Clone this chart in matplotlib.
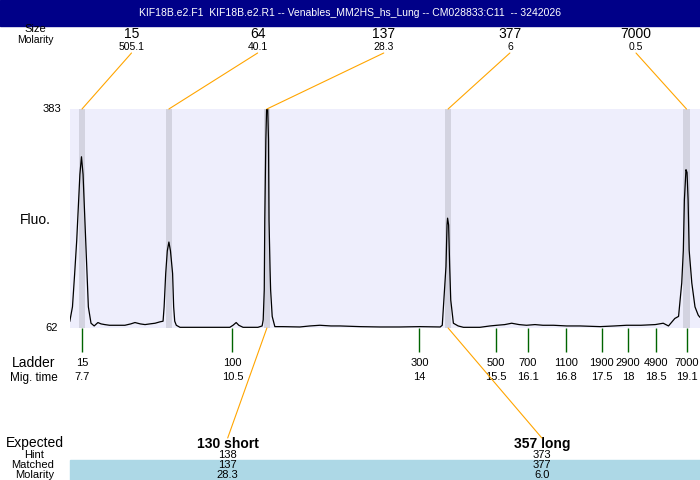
import matplotlib
matplotlib.use('Agg')
import matplotlib.pyplot as plt
from matplotlib import transforms
from matplotlib.patches import Rectangle, ConnectionPatch
import numpy as np

plt.rcParams['font.family'] = ['Liberation Sans', 'DejaVu Sans']

title = 'KIF18B.e2.F1  KIF18B.e2.R1 -- Venables_MM2HS_hs_Lung -- CM028833:C11  -- 3242026'

# peaks called on the trace
peak_sizes = ['15', '64', '137', '377', '7000']
peak_molarity = ['505.1', '40.1', '28.3', '6', '0.5']
peak_times = [7.70, 9.34, 11.19, 14.61, 19.11]

# ladder
ladder_sizes = ['15', '100', '300', '500', '700', '1100', '1900', '2900', '4900', '7000']
ladder_times = [7.70, 10.54, 14.07, 15.51, 16.11, 16.83, 17.51, 18.01, 18.54, 19.11]
ladder_time_labels = ['7.7', '10.5', '14', '15.5', '16.1', '16.8', '17.5', '18', '18.5', '19.1']

# expected products
expected_labels = ['130 short', '357 long']
expected_times = [10.45, 16.38]
hint_sizes = ['138', '373']
matched_sizes = ['137', '377']
matched_molarity = ['28.3', '6.0']
matched_times = [11.19, 14.61]

# electropherogram trace (migration time, fluorescence)
trace_time = [7.47, 7.52, 7.56, 7.60, 7.66, 7.69, 7.72, 7.77, 7.82, 7.87, 7.93,
              8.00, 8.06, 8.13, 8.22, 8.32, 8.42, 8.51, 8.62, 8.70, 8.80, 8.89,
              8.98, 9.08, 9.17, 9.23, 9.25, 9.28, 9.31, 9.34, 9.37, 9.41, 9.43,
              9.45, 9.48, 9.55, 9.93, 10.49, 10.55, 10.61, 10.66, 10.74, 11.02,
              11.10, 11.12, 11.14, 11.15, 11.17, 11.19, 11.20, 11.22, 11.23,
              11.25, 11.26, 11.29, 11.34, 11.49, 11.81, 12.00, 12.19, 12.40,
              12.57, 12.95, 13.32, 13.70, 14.08, 14.46, 14.50, 14.53, 14.57,
              14.59, 14.60, 14.62, 14.64, 14.66, 14.71, 14.80, 14.90, 15.21,
              15.40, 15.53, 15.68, 15.81, 15.95, 16.09, 16.25, 16.40, 16.60,
              16.85, 17.10, 17.48, 17.75, 17.98, 18.25, 18.52, 18.67, 18.77,
              18.89, 18.96, 19.02, 19.05, 19.07, 19.10, 19.12, 19.14, 19.16,
              19.21, 19.27, 19.33, 19.36]
trace_fluo = [72, 93, 140, 190, 287, 313, 287, 190, 93, 69, 65,
              70, 68, 67, 66, 66, 66, 66, 68, 70, 68, 67,
              68, 69, 71, 72, 93, 142, 175, 188, 175, 142, 93,
              72, 66, 63, 63, 63, 66, 70, 66, 63, 63,
              65, 74, 118, 220, 338, 400, 400, 338, 220,
              147, 118, 79, 64, 64, 63.5, 65, 66, 65,
              65, 64, 63.5, 63.5, 64, 63.5, 66, 103, 152,
              213, 223, 213, 152, 103, 69, 65, 63, 63,
              65, 66, 67, 69, 67, 66, 67, 66, 66,
              65, 65, 64, 65, 66, 66, 67, 69, 65,
              76, 79, 128, 176, 250, 294, 290, 250, 176,
              128, 93, 81, 78]

fluo_min, fluo_max = 62, 383

W, H = 700, 480
fig = plt.figure(figsize=(7, 4.8), dpi=100)


def fx(px):
    return px / W


def fy(px):
    return 1 - px / H


ax = fig.add_axes([fx(70), fy(328), fx(630), 219 / H])
ax.set_facecolor('#EEEEFC')
ax.set_xlim(7.4735, 19.3647)
ax.set_ylim(fluo_min, fluo_max)
for s in ax.spines.values():
    s.set_visible(False)
ax.set_xticks([])
ax.set_yticks([])

for t in peak_times:
    ax.axvspan(t - 0.057, t + 0.057, color='#D3D3E0', lw=0)
ax.plot(trace_time, trace_fluo, color='black', lw=0.9)

xb = transforms.blended_transform_factory(ax.transData, fig.transFigure)

# title bar
fig.add_artist(Rectangle((0, fy(26)), 1, 26 / H, transform=fig.transFigure,
                         color='#000088', zorder=0))
fig.text(0.5, fy(13), title, color='white', ha='center', va='center', fontsize=7.5)

# top rows
fig.text(fx(35), fy(29), 'Size', ha='center', va='center', fontsize=8)
fig.text(fx(35), fy(40), 'Molarity', ha='center', va='center', fontsize=7.5)
label_x = np.linspace(131.5, 636, len(peak_sizes))
for lx, size, mol, t in zip(label_x, peak_sizes, peak_molarity, peak_times):
    fig.text(fx(lx), fy(34.5), size, ha='center', va='center', fontsize=10)
    fig.text(fx(lx), fy(46.5), mol, ha='center', va='center', fontsize=7.5)
    con = ConnectionPatch(xyA=(fx(lx), fy(53)), coordsA=fig.transFigure,
                          xyB=(t, fluo_max), coordsB=ax.transData,
                          color='orange', lw=0.8)
    fig.add_artist(con)

# y labels
fig.text(fx(61), fy(109), str(fluo_max), ha='right', va='center', fontsize=8)
fig.text(fx(58), fy(328), str(fluo_min), ha='right', va='center', fontsize=8)
fig.text(fx(35), fy(220), 'Fluo.', ha='center', va='center', fontsize=10)

# ladder
ax.vlines(ladder_times, fy(352), fy(328), transform=xb, color='#006400', lw=1,
          clip_on=False)
fig.text(fx(34), fy(363), 'Ladder', ha='center', va='center', fontsize=10)
fig.text(fx(34), fy(377.5), 'Mig. time', ha='center', va='center', fontsize=8.5)
for t, size, lab in zip(ladder_times, ladder_sizes, ladder_time_labels):
    ax.text(t, fy(363), size, transform=xb, ha='center', va='center', fontsize=8)
    ax.text(t, fy(377.5), lab, transform=xb, ha='center', va='center', fontsize=8)

# expected / matched table
fig.add_artist(Rectangle((fx(70), 0), fx(630), 20 / H,
                         transform=fig.transFigure, color='#ADD8E6', zorder=0))
fig.text(fx(34.5), fy(443), 'Expected', ha='center', va='center', fontsize=10)
fig.text(fx(34), fy(455), 'Hint', ha='center', va='center', fontsize=8)
fig.text(fx(33), fy(465), 'Matched', ha='center', va='center', fontsize=8)
fig.text(fx(34.5), fy(474.5), 'Molarity', ha='center', va='center', fontsize=8)
for et, lab, hint, msize, mmol, mt in zip(expected_times, expected_labels, hint_sizes,
                                          matched_sizes, matched_molarity, matched_times):
    ax.text(et, fy(444), lab, transform=xb, ha='center', va='center', fontsize=10,
            fontweight='bold')
    ax.text(et, fy(454.5), hint, transform=xb, ha='center', va='center', fontsize=8)
    ax.text(et, fy(465), msize, transform=xb, ha='center', va='center', fontsize=8)
    ax.text(et, fy(474.5), mmol, transform=xb, ha='center', va='center', fontsize=8)
    con = ConnectionPatch(xyA=(mt, fluo_min), coordsA=ax.transData,
                          xyB=(et, fy(438)), coordsB=xb, color='orange', lw=0.8)
    fig.add_artist(con)

fig.savefig('out.png', dpi=100)
